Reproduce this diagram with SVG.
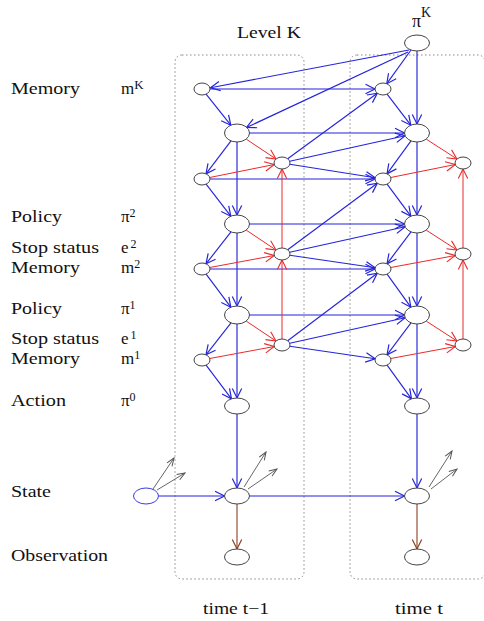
<svg xmlns="http://www.w3.org/2000/svg" width="484" height="621" viewBox="0 0 484 621">
<defs>
<style>
.lbl{font-family:"Liberation Serif","Times New Roman",serif;font-size:17px;fill:#111}
.sup{font-size:12px}
.supk{font-size:13px}
.n{fill:#fff;stroke:#444;stroke-width:1}
.box{fill:none;stroke:#888;stroke-width:1;stroke-dasharray:1.5 2.5}
.b{stroke:#2424dc;stroke-width:1.15;fill:none;marker-end:url(#ab)}
.r{stroke:#ec2a2a;stroke-width:1;fill:none;marker-end:url(#ar)}
.br{stroke:#8b3f1f;stroke-width:1.1;fill:none;marker-end:url(#abr)}
.g{stroke:#555;stroke-width:0.9;fill:none;marker-end:url(#ag)}
</style>
<marker id="ab" markerUnits="userSpaceOnUse" markerWidth="12" markerHeight="12" viewBox="0 0 12 12" refX="10.5" refY="6" orient="auto"><path d="M1,1.3 L10.5,6 L1,10.7" fill="none" stroke="#2424dc" stroke-width="1.2"/></marker>
<marker id="ar" markerUnits="userSpaceOnUse" markerWidth="12" markerHeight="12" viewBox="0 0 12 12" refX="10.5" refY="6" orient="auto"><path d="M1,1.3 L10.5,6 L1,10.7" fill="none" stroke="#ec2a2a" stroke-width="1.1"/></marker>
<marker id="abr" markerUnits="userSpaceOnUse" markerWidth="12" markerHeight="12" viewBox="0 0 12 12" refX="10.5" refY="6" orient="auto"><path d="M1,1.3 L10.5,6 L1,10.7" fill="none" stroke="#8b3f1f" stroke-width="1.2"/></marker>
<marker id="ag" markerUnits="userSpaceOnUse" markerWidth="10" markerHeight="10" viewBox="0 0 10 10" refX="9" refY="5" orient="auto"><path d="M1,2 L9,5 L1,8" fill="none" stroke="#555" stroke-width="1"/></marker>
</defs>
<rect width="484" height="621" fill="#fff"/>

<g id="frames">
<rect class="box" x="175" y="55" width="129" height="524" rx="7"/>
<rect class="box" x="350" y="55" width="135" height="524" rx="7"/>
</g>

<g id="labels">
<text class="lbl" x="237" y="38" textLength="64" lengthAdjust="spacingAndGlyphs">Level K</text>
<text class="lbl" x="412" y="27" style="font-size:18px">π<tspan style="font-size:14px" dy="-10">K</tspan></text>
<text class="lbl" x="11" y="94" textLength="69" lengthAdjust="spacingAndGlyphs">Memory</text>
<text class="lbl" x="121" y="94">m<tspan class="supk" dy="-5">K</tspan></text>
<text class="lbl" x="11" y="222" textLength="51" lengthAdjust="spacingAndGlyphs">Policy</text>
<text class="lbl" x="121" y="222">π<tspan class="sup" dy="-5">2</tspan></text>
<text class="lbl" x="11" y="253" textLength="88" lengthAdjust="spacingAndGlyphs">Stop status</text>
<text class="lbl" x="121" y="253">e<tspan class="sup" dx="2" dy="-5">2</tspan></text>
<text class="lbl" x="11" y="273" textLength="69" lengthAdjust="spacingAndGlyphs">Memory</text>
<text class="lbl" x="121" y="273">m<tspan class="sup" dy="-5">2</tspan></text>
<text class="lbl" x="11" y="314" textLength="51" lengthAdjust="spacingAndGlyphs">Policy</text>
<text class="lbl" x="121" y="314">π<tspan class="sup" dy="-5">1</tspan></text>
<text class="lbl" x="11" y="344" textLength="88" lengthAdjust="spacingAndGlyphs">Stop status</text>
<text class="lbl" x="121" y="344">e<tspan class="sup" dx="2" dy="-5">1</tspan></text>
<text class="lbl" x="11" y="364" textLength="69" lengthAdjust="spacingAndGlyphs">Memory</text>
<text class="lbl" x="121" y="364">m<tspan class="sup" dy="-5">1</tspan></text>
<text class="lbl" x="11" y="406" textLength="55" lengthAdjust="spacingAndGlyphs">Action</text>
<text class="lbl" x="121" y="406">π<tspan class="sup" dy="-5">0</tspan></text>
<text class="lbl" x="11" y="497" textLength="40" lengthAdjust="spacingAndGlyphs">State</text>
<text class="lbl" x="11" y="561" textLength="97" lengthAdjust="spacingAndGlyphs">Observation</text>
<text class="lbl" x="203" y="614" textLength="66" lengthAdjust="spacingAndGlyphs">time t−1</text>
<text class="lbl" x="395" y="614" textLength="48" lengthAdjust="spacingAndGlyphs">time t</text>
</g>

<g id="connectors">
<line class="b" x1="409" y1="50" x2="210.5" y2="87.8"/>
<line class="b" x1="408" y1="52" x2="246.5" y2="127.5"/>
<line class="b" x1="411" y1="50" x2="386.8" y2="83.7"/>
<line class="b" x1="417" y1="51" x2="417" y2="124"/>
<line class="b" x1="210" y1="89" x2="375" y2="89"/>
<line class="b" x1="206.1" y1="94.2" x2="230.8" y2="125.2"/>
<line class="b" x1="387.1" y1="94.2" x2="410.8" y2="125.2"/>
<line class="b" x1="287.7" y1="158.8" x2="377.3" y2="93.2"/>
<line class="b" x1="249.5" y1="133" x2="404.5" y2="133"/>
<line class="b" x1="231" y1="140.9" x2="206" y2="173.8"/>
<line class="b" x1="237" y1="142" x2="237" y2="215"/>
<line class="b" x1="289.7" y1="161.3" x2="405.1" y2="135.7"/>
<line class="b" x1="289.8" y1="164.2" x2="375.2" y2="177.8"/>
<line class="b" x1="210" y1="179" x2="375" y2="179"/>
<line class="b" x1="411" y1="140.9" x2="387" y2="173.8"/>
<line class="b" x1="417" y1="142" x2="417" y2="215"/>
<line class="b" x1="206.1" y1="184.2" x2="230.8" y2="216.2"/>
<line class="b" x1="287.7" y1="249.8" x2="377.3" y2="183.2"/>
<line class="b" x1="387.1" y1="184.2" x2="410.8" y2="216.2"/>
<line class="b" x1="249.5" y1="224" x2="404.5" y2="224"/>
<line class="b" x1="231" y1="231.9" x2="206" y2="263.8"/>
<line class="b" x1="237" y1="233" x2="237" y2="306"/>
<line class="b" x1="289.7" y1="252.3" x2="405.1" y2="226.7"/>
<line class="b" x1="289.8" y1="255.2" x2="375.2" y2="267.8"/>
<line class="b" x1="210" y1="269" x2="375" y2="269"/>
<line class="b" x1="206.1" y1="274.2" x2="230.8" y2="307.2"/>
<line class="b" x1="287.7" y1="340.8" x2="377.3" y2="273.2"/>
<line class="b" x1="289.7" y1="343.3" x2="405.1" y2="317.7"/>
<line class="b" x1="289.8" y1="346.2" x2="375.2" y2="358.8"/>
<line class="b" x1="249.5" y1="315" x2="404.5" y2="315"/>
<line class="b" x1="231" y1="322.9" x2="206" y2="354.8"/>
<line class="b" x1="237" y1="324" x2="237" y2="398"/>
<line class="b" x1="206.1" y1="365.2" x2="231.5" y2="398.8"/>
<line class="b" x1="411" y1="231.9" x2="387" y2="263.8"/>
<line class="b" x1="417" y1="233" x2="417" y2="306"/>
<line class="b" x1="387.1" y1="274.2" x2="410.8" y2="307.2"/>
<line class="b" x1="411" y1="322.9" x2="387" y2="354.8"/>
<line class="b" x1="417" y1="324" x2="417" y2="398"/>
<line class="b" x1="387.1" y1="365.2" x2="411.5" y2="398.8"/>
<line class="b" x1="237" y1="414" x2="237" y2="488"/>
<line class="b" x1="417" y1="414" x2="417" y2="488"/>
<line class="b" x1="158.5" y1="496" x2="224.5" y2="496"/>
<line class="b" x1="249.5" y1="496" x2="404.5" y2="496"/>
<line class="r" x1="246.2" y1="139.1" x2="276" y2="159"/>
<line class="r" x1="209.7" y1="177.5" x2="274.3" y2="164.5"/>
<line class="r" x1="282" y1="248" x2="282" y2="169"/>
<line class="r" x1="426.2" y1="139.1" x2="457" y2="159"/>
<line class="r" x1="390.7" y1="177.5" x2="455.3" y2="164.5"/>
<line class="r" x1="463" y1="248" x2="463" y2="169"/>
<line class="r" x1="246.2" y1="230.1" x2="276" y2="250"/>
<line class="r" x1="209.7" y1="267.5" x2="274.3" y2="255.5"/>
<line class="r" x1="282" y1="339" x2="282" y2="260"/>
<line class="r" x1="426.2" y1="230.1" x2="457" y2="250"/>
<line class="r" x1="390.7" y1="267.5" x2="455.3" y2="255.5"/>
<line class="r" x1="463" y1="339" x2="463" y2="260"/>
<line class="r" x1="246.2" y1="321.1" x2="276" y2="341"/>
<line class="r" x1="209.7" y1="358.5" x2="274.3" y2="346.5"/>
<line class="r" x1="426.2" y1="321.1" x2="457" y2="341"/>
<line class="r" x1="390.7" y1="358.5" x2="455.3" y2="346.5"/>
<line class="br" x1="237" y1="504" x2="237" y2="549"/>
<line class="br" x1="417" y1="504" x2="417" y2="549"/>
<line class="g" x1="153" y1="489" x2="174" y2="458"/>
<line class="g" x1="157" y1="490" x2="185" y2="473"/>
<line class="g" x1="244" y1="487" x2="266" y2="452"/>
<line class="g" x1="248" y1="489" x2="277" y2="469"/>
<line class="g" x1="429" y1="487" x2="452" y2="451"/>
<line class="g" x1="431" y1="489" x2="457" y2="469"/>
</g>

<g id="piK"><ellipse class="n" cx="417" cy="43" rx="12.5" ry="8"/></g>
<g id="mK_L"><ellipse class="n" cx="202" cy="89" rx="8" ry="6"/></g>
<g id="mK_R"><ellipse class="n" cx="383" cy="89" rx="8" ry="6"/></g>
<g id="piKL"><ellipse class="n" cx="237" cy="133" rx="12.5" ry="9"/></g>
<g id="piKR"><ellipse class="n" cx="417" cy="133" rx="12.5" ry="9"/></g>
<g id="eK_L"><ellipse class="n" cx="282" cy="163" rx="8" ry="6"/></g>
<g id="eK_R"><ellipse class="n" cx="463" cy="163" rx="8" ry="6"/></g>
<g id="mK1_L"><ellipse class="n" cx="202" cy="179" rx="8" ry="6"/></g>
<g id="mK1_R"><ellipse class="n" cx="383" cy="179" rx="8" ry="6"/></g>
<g id="pi2_L"><ellipse class="n" cx="237" cy="224" rx="12.5" ry="9"/></g>
<g id="pi2_R"><ellipse class="n" cx="417" cy="224" rx="12.5" ry="9"/></g>
<g id="e2_L"><ellipse class="n" cx="282" cy="254" rx="8" ry="6"/></g>
<g id="e2_R"><ellipse class="n" cx="463" cy="254" rx="8" ry="6"/></g>
<g id="m2_L"><ellipse class="n" cx="202" cy="269" rx="8" ry="6"/></g>
<g id="m2_R"><ellipse class="n" cx="383" cy="269" rx="8" ry="6"/></g>
<g id="pi1_L"><ellipse class="n" cx="237" cy="315" rx="12.5" ry="9"/></g>
<g id="pi1_R"><ellipse class="n" cx="417" cy="315" rx="12.5" ry="9"/></g>
<g id="e1_L"><ellipse class="n" cx="282" cy="345" rx="8" ry="6"/></g>
<g id="e1_R"><ellipse class="n" cx="463" cy="345" rx="8" ry="6"/></g>
<g id="m1_L"><ellipse class="n" cx="202" cy="360" rx="8" ry="6"/></g>
<g id="m1_R"><ellipse class="n" cx="383" cy="360" rx="8" ry="6"/></g>
<g id="pi0_L"><ellipse class="n" cx="237" cy="406" rx="12.5" ry="8"/></g>
<g id="pi0_R"><ellipse class="n" cx="417" cy="406" rx="12.5" ry="8"/></g>
<g id="state_prev"><ellipse cx="146" cy="496" rx="12.5" ry="8" fill="#fff" stroke="#3a3ae0" stroke-width="1"/></g>
<g id="state_L"><ellipse class="n" cx="237" cy="496" rx="12.5" ry="8"/></g>
<g id="state_R"><ellipse class="n" cx="417" cy="496" rx="12.5" ry="8"/></g>
<g id="obs_L"><ellipse class="n" cx="237" cy="557" rx="12.5" ry="8"/></g>
<g id="obs_R"><ellipse class="n" cx="417" cy="557" rx="12.5" ry="8"/></g>
</svg>
